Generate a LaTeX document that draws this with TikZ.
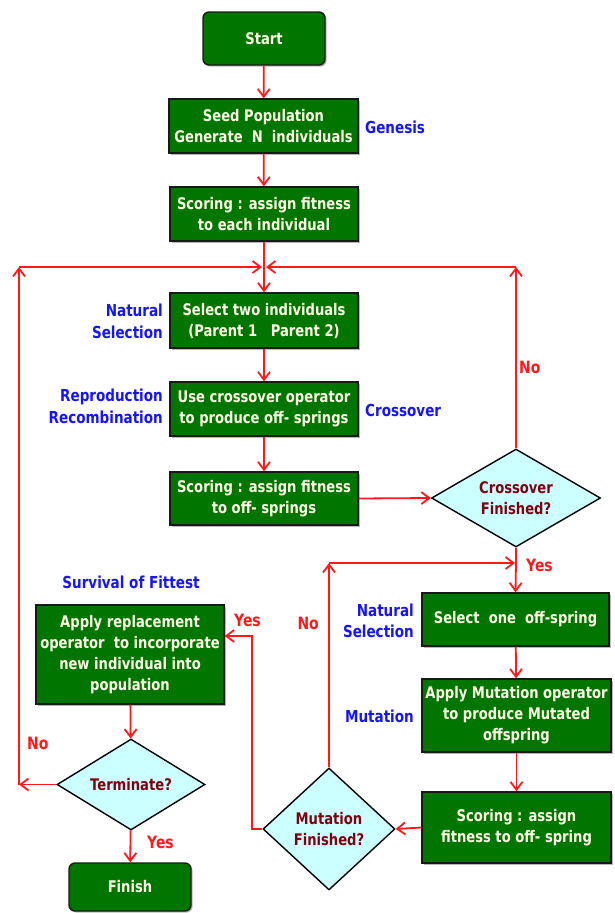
\documentclass[tikz,border=0pt]{standalone}
\usepackage{fontspec}
\newfontfamily\dv{DejaVu Sans}[FakeStretch=0.82]
\usetikzlibrary{shapes.geometric,arrows.meta,shadows}
\definecolor{boxgreen}{RGB}{0,117,0}
\definecolor{boxedge}{RGB}{25,25,25}
\definecolor{boxtext}{RGB}{255,255,232}
\definecolor{diafill}{RGB}{204,255,255}
\definecolor{diatext}{RGB}{128,0,16}
\definecolor{lblue}{RGB}{20,20,255}
\definecolor{lred}{RGB}{255,25,25}
\begin{document}
\begin{tikzpicture}[x=1pt,y=-1pt,
  font=\dv\bfseries\fontsize{16}{21}\selectfont,
  gbox/.style={draw=boxedge,line width=1.4pt,fill=boxgreen,text=boxtext,align=center,inner sep=0pt,
    drop shadow={shadow xshift=1.6pt,shadow yshift=-1.6pt,fill=black,opacity=0.28}},
  term/.style={gbox,rounded corners=6pt},
  dia/.style={diamond,draw=black,line width=1.4pt,fill=diafill,text=diatext,align=center,inner sep=0pt},
  lbl/.style={text=lblue,font=\dv\bfseries\fontsize{16.5}{21.5}\selectfont,inner sep=0pt},
  yn/.style={text=lred,font=\dv\bfseries\fontsize{17}{21}\selectfont,inner sep=0pt},
  arr/.style={draw=lred,line width=1.8pt,-{Straight Barb[length=8pt,width=12pt]}},
  ln/.style={draw=lred,line width=1.8pt}]
\useasboundingbox (0,0) rectangle (615,913);
% nodes
\node[term,minimum width=122pt,minimum height=53pt] (start) at (264,38.5) {Start};
\node[gbox,minimum width=189pt,minimum height=54pt] (seed) at (263.5,126) {Seed Population\\Generate\ \ N\ \ individuals};
\node[gbox,minimum width=188pt,minimum height=54pt] (score1) at (264,214) {Scoring : assign fitness\\to each individual};
\node[gbox,minimum width=188pt,minimum height=55pt] (sel2) at (264,320.5) {Select two individuals\\(Parent 1\ \ \ Parent 2)};
\node[gbox,minimum width=188pt,minimum height=54pt] (cross) at (264,409) {Use crossover operator\\to produce off- springs};
\node[gbox,minimum width=188pt,minimum height=53pt] (score2) at (264,498.5) {Scoring : assign fitness\\to off- springs};
\node[dia,aspect=1.72,minimum width=169pt,minimum height=98pt] (cdia) at (516,498) {Crossover\\Finished?};
\node[gbox,minimum width=187pt,minimum height=53pt] (sel1) at (515.5,619.5) {Select\ \ one\ \ off-spring};
\node[gbox,minimum width=189pt,minimum height=73pt] (mut) at (516.5,715.5) {Apply Mutation operator\\to produce Mutated\\offspring};
\node[gbox,minimum width=189pt,minimum height=71pt] (score3) at (516.5,827.5) {Scoring : assign\\fitness to off- spring};
\node[dia,aspect=1.08,minimum width=132pt,minimum height=122pt] (mdia) at (329,829) {Mutation\\Finished?};
\node[gbox,minimum width=188pt,minimum height=99pt] (repl) at (130,654.5) {Apply replacement\\operator\ \ to incorporate\\new individual into\\population};
\node[dia,aspect=1.63,minimum width=148pt,minimum height=91pt] (tdia) at (131,784.5) {Terminate?};
\node[term,minimum width=122pt,minimum height=48pt] (finish) at (130,887) {Finish};
% labels
\node[lbl,anchor=west] (genesis) at (365,127) {Genesis};
\node[lbl,anchor=east,align=right] (ns1) at (163,321.5) {Natural\\Selection};
\node[lbl,anchor=east,align=right] (rr) at (163,406.5) {Reproduction\\Recombination};
\node[lbl,anchor=west] (crosslbl) at (365,410) {Crossover};
\node[lbl] (surv) at (131,582) {Survival of Fittest};
\node[lbl,anchor=east,align=right] (ns2) at (414,621) {Natural\\Selection};
\node[lbl,anchor=east] (mutlbl) at (414,716) {Mutation};
\node[yn,anchor=west] (no1) at (519,367) {No};
\node[yn,anchor=west] (yes1) at (526,565) {Yes};
\node[yn,anchor=east] (no2) at (319,623) {No};
\node[yn,anchor=west] (yes2) at (234,620) {Yes};
\node[yn,anchor=west] (no3) at (27,743) {No};
\node[yn,anchor=west] (yes3) at (147,842) {Yes};
% junction coordinates
\coordinate (j1) at (264,267);
\coordinate (ltop) at (19,267);
\coordinate (lbot) at (19,784.5);
\coordinate (rtop) at (516,267);
\coordinate (j2) at (516,563);
\coordinate (mtop) at (329,563);
\coordinate (rA) at (252,829);
\coordinate (rB) at (252,636);
% connectors
\draw[arr] (start) -- (seed);
\draw[arr] (seed) -- (score1);
\draw[arr] (score1) -- (sel2);
\draw[arr] (sel2) -- (cross);
\draw[arr] (cross) -- (score2);
\draw[arr] (score2.east) -- (cdia.west);
\draw[arr] (cdia.north) -- (rtop);
\draw[arr,shorten >=2pt] (rtop) -- (j1);
\draw[arr] (tdia.west) -- (lbot);
\draw[arr] (lbot) -- (ltop);
\draw[arr,shorten >=2pt] (ltop) -- (j1);
\draw[ln] (cdia.south) -- (j2);
\draw[arr] (j2) -- (sel1.north);
\draw[arr] (sel1) -- (mut);
\draw[arr] (mut) -- (score3);
\draw[arr] (score3.west) -- (mdia.east);
\draw[arr] (mdia.north) -- (mtop);
\draw[arr,shorten >=1pt] (mtop) -- (j2);
\draw[arr] (mdia.west) -- (rA) -- (rB) -- (rB -| repl.east);
\draw[arr] (repl) -- (tdia);
\draw[arr] (tdia) -- (finish);
\end{tikzpicture}
\end{document}
